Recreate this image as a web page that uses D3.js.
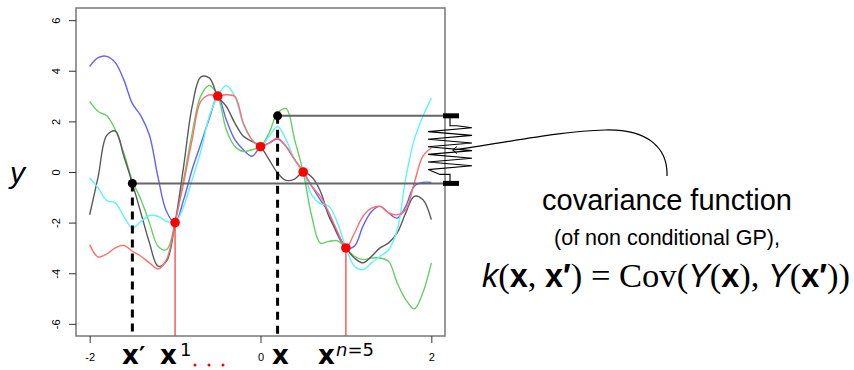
<!DOCTYPE html>
<html>
<head>
<meta charset="utf-8">
<script src="https://cdn.jsdelivr.net/npm/d3@7/dist/d3.min.js"></script>
<style>
  html, body { margin: 0; padding: 0; background: #fff; }
  svg { display: block; }
</style>
</head>
<body>
<script>
// Sample paths of a conditional Gaussian process, evaluated on a regular grid.
const gridX = [-2.0,-1.9,-1.8,-1.7,-1.6,-1.5,-1.4,-1.3,-1.2,-1.1,-1.0,-0.9,-0.8,-0.7,-0.6,-0.5,-0.4,-0.3,-0.2,-0.1,
               0.0,0.1,0.2,0.3,0.4,0.5,0.6,0.7,0.8,0.9,1.0,1.1,1.2,1.3,1.4,1.5,1.6,1.7,1.8,1.9,2.0];

const pathBlue  = [4.17,4.52,4.57,4.32,3.64,2.70,2.22,1.45,-0.20,-1.56,-2.00,-1.10,0.10,1.10,2.10,3.00,2.06,1.28,0.88,0.62,
                   1.00,1.14,1.30,1.01,0.49,0.00,-0.56,-1.10,-1.62,-2.47,-3.00,-2.93,-2.14,-1.56,-1.36,-1.62,-1.82,-1.36,-0.56,-0.41,-0.41];
const pathGreen = [2.79,2.39,2.22,1.67,0.75,-0.35,-1.09,-2.01,-2.93,-3.07,-2.00,-0.30,1.54,3.00,3.42,3.00,1.67,1.01,0.81,0.88,
                   1.00,1.54,2.33,2.50,1.27,0.00,-1.75,-2.81,-2.74,-2.72,-3.00,-3.33,-3.46,-3.40,-3.40,-3.53,-4.38,-5.04,-5.41,-4.78,-3.59];
const pathGray  = [-1.69,-0.17,1.45,1.62,0.62,-0.45,-1.62,-2.80,-3.72,-3.52,-2.00,0.22,2.59,3.75,3.72,3.00,2.59,1.93,1.41,1.21,
                   1.00,0.49,-0.04,-0.33,-0.28,0.00,-0.20,-0.75,-1.75,-2.41,-3.00,-3.40,-3.59,-3.33,-3.00,-2.80,-2.41,-1.62,-0.96,-1.09,-1.88];
const pathCyan  = [-0.24,-0.63,-1.13,-1.22,-1.75,-2.21,-1.95,-1.72,-1.75,-1.95,-2.00,-1.36,-0.30,0.80,2.19,3.00,3.42,2.98,1.87,1.28,
                   1.00,1.41,1.80,1.27,0.49,0.00,-0.90,-1.25,-1.35,-2.00,-3.00,-3.72,-3.86,-3.59,-3.33,-3.07,-2.30,-0.25,1.28,2.19,2.92];
const pathRed   = [-2.87,-3.36,-3.24,-3.00,-2.90,-3.13,-3.33,-3.59,-3.83,-3.46,-2.00,-0.43,1.28,2.79,3.05,3.00,3.05,2.98,1.93,1.28,
                   1.00,1.14,1.34,1.01,0.49,0.00,-0.56,-0.96,-1.60,-2.34,-3.00,-2.41,-1.75,-1.43,-1.36,-1.62,-1.69,-1.49,-0.43,0.62,0.95];

const seriesNames  = ["blue", "green", "gray", "cyan", "red"];
const seriesValues = [pathBlue, pathGreen, pathGray, pathCyan, pathRed];
const seriesColors = ["#6262ff", "#66d066", "#5a5a5a", "#5ff5f5", "#ff6e6e"];

// Observations (design points and responses)
const obsX = [-1.0, -0.5, 0.0, 0.5, 1.0];
const obsY = [-2.0, 3.0, 1.0, 0.0, -3.0];

// Two locations x' and x with the sampled value of one path
const pairX = [-1.5, 0.2];
const pairY = [-0.45, 2.22];

const xTicks = [-2, 0, 2];
const yTicks = [-6, -4, -2, 0, 2, 4, 6];

const W = 854, H = 370;
const box = { left: 76, right: 445, top: 8, bottom: 336 };

const x = d3.scaleLinear().domain([-2.16, 2.16]).range([box.left, box.right]);
const y = d3.scaleLinear().domain([-6.48, 6.48]).range([box.bottom, box.top]);

const svg = d3.select("body").append("svg").attr("width", W).attr("height", H);

// sample paths
const line = d3.line()
  .x((d, i) => x(gridX[i]))
  .y(d => y(d))
  .curve(d3.curveCatmullRom.alpha(0.5));

svg.append("g").attr("class", "paths")
  .selectAll("path")
  .data(seriesValues)
  .join("path")
  .attr("d", line)
  .attr("fill", "none")
  .attr("stroke", (d, i) => seriesColors[i])
  .attr("stroke-width", 1.4);

// red drop lines at the first and last observation
svg.append("g")
  .selectAll("line")
  .data([0, obsX.length - 1])
  .join("line")
  .attr("x1", i => x(obsX[i])).attr("x2", i => x(obsX[i]))
  .attr("y1", i => y(obsY[i])).attr("y2", box.bottom)
  .attr("stroke", "#ff2020").attr("stroke-width", 1.1);

// dashed drop lines below x' and x
svg.append("g")
  .selectAll("line")
  .data(pairX)
  .join("line")
  .attr("x1", d => x(d)).attr("x2", d => x(d))
  .attr("y1", (d, i) => y(pairY[i])).attr("y2", box.bottom)
  .attr("stroke", "#000").attr("stroke-width", 3)
  .attr("stroke-dasharray", "8,6");

// horizontal links from the two values to the spring
svg.append("g")
  .selectAll("line")
  .data(pairY)
  .join("line")
  .attr("x1", (d, i) => x(pairX[i])).attr("x2", box.right)
  .attr("y1", d => y(d)).attr("y2", d => y(d))
  .attr("stroke", "#666").attr("stroke-width", 2);

// plot frame
svg.append("rect")
  .attr("x", box.left).attr("y", box.top)
  .attr("width", box.right - box.left).attr("height", box.bottom - box.top)
  .attr("fill", "none").attr("stroke", "#777").attr("stroke-width", 1.5);

// spring between the two values
const yTop = y(pairY[1]), yBot = y(pairY[0]);
const sx = 451;
svg.append("g").selectAll("rect")
  .data([yTop, yBot])
  .join("rect")
  .attr("x", sx - 8).attr("y", d => d - 2.5)
  .attr("width", 16).attr("height", 5)
  .attr("fill", "#000");

const springPts = [[sx - 1, yTop], [sx - 1, yTop + 10], [sx + 6, yTop + 10]];
const nTeeth = 6, zTop = yTop + 12, zBot = yBot - 10;
const step = (zBot - zTop) / (2 * nTeeth);
for (let k = 0; k < 2 * nTeeth; k++) {
  springPts.push([k % 2 === 0 ? sx + 21 : sx - 23, zTop + k * step]);
}
springPts.push([sx - 11, zBot + 1], [sx - 1, zBot + 1], [sx - 1, yBot]);
svg.append("path")
  .attr("d", d3.line()(springPts))
  .attr("fill", "none").attr("stroke", "#000").attr("stroke-width", 1.1);

// connector from the label to the spring
svg.append("path")
  .attr("d", "M453,150 C505,143 560,131 605,130 C648,129 668,148 667,176")
  .attr("fill", "none").attr("stroke", "#000").attr("stroke-width", 1.2);
svg.append("path")
  .attr("d", "M457,146.5 L452.5,150 L457,153.5")
  .attr("fill", "none").attr("stroke", "#000").attr("stroke-width", 1);

// observation points
svg.append("g")
  .selectAll("circle")
  .data(obsX)
  .join("circle")
  .attr("cx", d => x(d)).attr("cy", (d, i) => y(obsY[i]))
  .attr("r", 4.8).attr("fill", "#ff0000");

// the two evaluation points
svg.append("g")
  .selectAll("circle")
  .data(pairX)
  .join("circle")
  .attr("cx", d => x(d)).attr("cy", (d, i) => y(pairY[i]))
  .attr("r", 4.5).attr("fill", "#000");

// axes
const fmt = d => String(d);
const gx = svg.append("g")
  .attr("transform", `translate(0,${box.bottom})`)
  .call(d3.axisBottom(x).tickValues(xTicks).tickFormat(fmt).tickSize(7).tickPadding(10));
const gy = svg.append("g")
  .attr("transform", `translate(${box.left},0)`)
  .call(d3.axisLeft(y).tickValues(yTicks).tickFormat(fmt).tickSize(7));
[gx, gy].forEach(g => {
  g.select(".domain").remove();
  g.selectAll(".tick line").attr("stroke", "#333");
  g.selectAll("text").attr("font-family", "Liberation Sans, Arial, sans-serif")
    .attr("font-size", 11).attr("fill", "#000");
});
gy.selectAll("text")
  .attr("transform", "rotate(-90)")
  .attr("x", 0).attr("y", -16).attr("dy", 0)
  .attr("text-anchor", "middle");

// y label
svg.append("text")
  .attr("x", 10).attr("y", 183)
  .attr("font-family", "Liberation Sans, Arial, sans-serif")
  .attr("font-style", "italic").attr("font-size", 30)
  .text("y");

// labels under the axis
const boldFont = "DejaVu Sans, sans-serif";
const baseY = 364;
function bx(px, txt) {
  return svg.append("text").attr("x", px).attr("y", baseY)
    .attr("font-family", boldFont).attr("font-weight", "bold").attr("font-size", 26)
    .text(txt);
}
bx(122, "x");
svg.append("text").attr("x", 139).attr("y", baseY)
  .attr("font-family", boldFont).attr("font-weight", "bold").attr("font-size", 24).text("′");
bx(160, "x");
svg.append("text").attr("x", 180).attr("y", 356)
  .attr("font-family", boldFont).attr("font-size", 18).text("1");
svg.append("g").selectAll("circle")
  .data([195, 209, 223])
  .join("circle")
  .attr("cx", d => d).attr("cy", 365).attr("r", 1.5).attr("fill", "#ff0000");
bx(272, "x");
bx(318, "x");
const sup = svg.append("text").attr("x", 336).attr("y", 356)
  .attr("font-family", boldFont).attr("font-size", 18);
sup.append("tspan").attr("font-style", "italic").text("n");
sup.append("tspan").text("=5");

// annotation
const annFont = "Liberation Sans, Arial, sans-serif";
svg.append("text").attr("x", 667).attr("y", 210)
  .attr("text-anchor", "middle").attr("font-family", annFont).attr("font-size", 29)
  .text("covariance function");
svg.append("text").attr("x", 667).attr("y", 245)
  .attr("text-anchor", "middle").attr("font-family", annFont).attr("font-size", 21.5)
  .text("(of non conditional GP),");

const serif = "Liberation Serif, Times New Roman, serif";
const f3 = svg.append("text").attr("x", 666).attr("y", 287)
  .attr("text-anchor", "middle").attr("font-family", annFont).attr("font-size", 30);
const parts = [
  ["k", "i"], ["(", "s"], ["x", "b"], [", ", "s"], ["x′", "b"], [")", "s"],
  [" = Cov(", "s"], ["Y", "i"], ["(", "s"], ["x", "b"], ["), ", "s"],
  ["Y", "i"], ["(", "s"], ["x′", "b"], ["))", "s"]
];
parts.forEach(([t, kind]) => {
  const s = f3.append("tspan").text(t);
  if (kind === "i") s.attr("font-style", "italic");
  if (kind === "b") s.attr("font-weight", "bold");
  if (kind === "s") s.attr("font-family", serif).attr("font-size", 32);
});
// fit the formula to its intended width
const wNow = f3.node().getComputedTextLength();
if (wNow > 0) {
  const k = 368 / wNow;
  f3.attr("font-size", 30 * k);
  f3.selectAll("tspan").filter(function () { return this.getAttribute("font-size"); })
    .attr("font-size", 32 * k);
}
</script>
</body>
</html>
